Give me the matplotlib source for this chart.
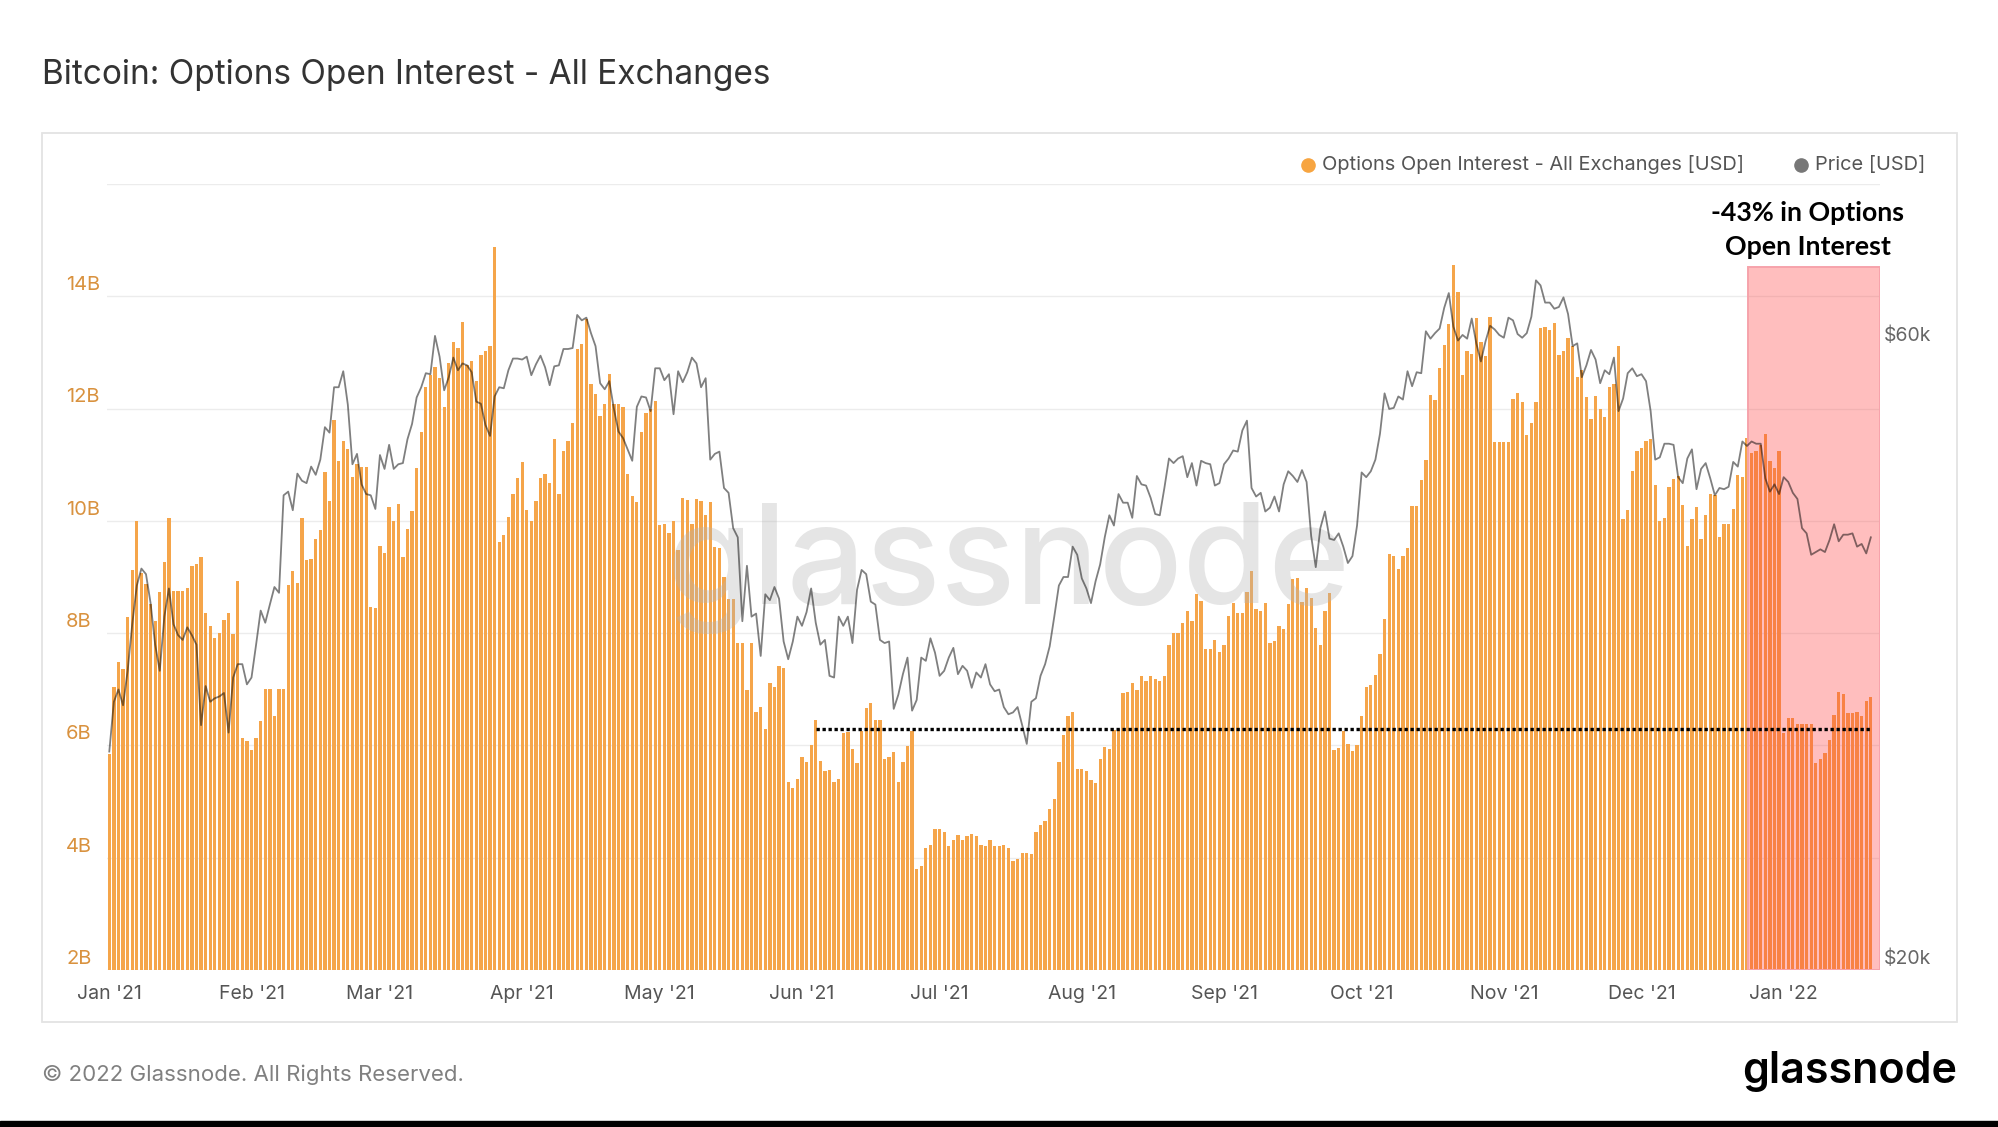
import numpy as np
import pandas as pd
import matplotlib
matplotlib.use('Agg')
import matplotlib.pyplot as plt
import matplotlib.dates as mdates
from matplotlib.patches import Rectangle
from matplotlib.lines import Line2D

plt.rcParams['font.family'] = ['Inter', 'DejaVu Sans']

# options open interest, billions USD (daily)
oi_jan21 = [5.84, 7.04, 7.49, 7.37, 8.29, 9.12, 10.0, 9.07, 8.88, 8.52, 8.22, 8.73, 9.26, 10.05, 8.75, 8.75,
            8.75, 8.80, 9.19, 9.24, 9.35, 8.35, 8.13, 7.92, 8.0, 8.23, 8.35, 7.98, 8.92, 6.13, 6.07]
oi_feb21 = [5.92, 6.13, 6.43, 7.01, 7.01, 6.52, 7.01, 7.01, 8.86, 9.11, 8.9, 10.05, 9.31, 9.32, 9.68, 9.83,
            10.87, 10.36, 11.79, 11.07, 11.43, 11.28, 10.79, 11.02, 10.96, 10.96, 8.47, 8.45]
oi_mar21 = [9.56, 9.43, 10.24, 10.0, 10.3, 9.35, 9.86, 10.17, 10.94, 11.58, 12.38, 12.6, 12.74, 12.54, 12.03,
            12.81, 13.19, 13.08, 13.55, 12.77, 12.85, 12.49, 12.95, 13.02, 13.11, 14.87, 9.62, 9.75, 10.07,
            10.47, 10.77]
oi_apr21 = [11.05, 10.2, 9.99, 10.36, 10.77, 10.84, 10.67, 11.45, 10.47, 11.24, 11.43, 11.75, 13.06, 13.15,
            13.59, 12.43, 12.26, 11.87, 12.09, 12.62, 12.09, 12.09, 12.03, 10.84, 10.45, 10.33, 11.58, 11.92,
            12.0, 12.13]
oi_may21 = [9.92, 9.94, 9.79, 10.0, 9.48, 10.41, 10.37, 9.94, 10.39, 10.36, 10.11, 10.33, 9.54, 9.51, 9.0,
            8.6, 8.6, 7.83, 7.83, 6.98, 7.83, 6.6, 6.69, 6.3, 7.11, 7.04, 7.41, 7.38, 5.34, 5.24, 5.41]
oi_jun21 = [5.79, 5.71, 6.0, 6.45, 5.73, 5.54, 5.56, 5.34, 5.41, 6.22, 6.24, 5.94, 5.68, 6.26, 6.67, 6.75,
            6.46, 6.45, 5.75, 5.79, 5.88, 5.35, 5.71, 5.99, 6.26, 3.8, 3.86, 4.18, 4.22, 4.52]
oi_jul21 = [4.52, 4.46, 4.2, 4.32, 4.41, 4.31, 4.39, 4.42, 4.39, 4.22, 4.2, 4.31, 4.2, 4.2, 4.22, 4.18, 3.95,
            3.98, 4.09, 4.09, 4.07, 4.46, 4.58, 4.65, 4.86, 5.05, 5.71, 6.19, 6.52, 6.6, 5.58]
oi_aug21 = [5.58, 5.54, 5.39, 5.33, 5.75, 5.98, 5.94, 6.28, 6.3, 6.93, 6.96, 7.11, 6.98, 7.24, 7.15, 7.24,
            7.18, 7.15, 7.24, 7.78, 8.0, 8.0, 8.18, 8.39, 8.22, 8.69, 8.57, 7.71, 7.71, 7.88, 7.66]
oi_sep21 = [7.79, 8.3, 8.54, 8.35, 8.35, 8.73, 9.11, 8.43, 8.39, 8.54, 7.83, 7.86, 8.13, 8.08, 8.52, 8.96,
            8.98, 8.56, 8.81, 8.63, 8.09, 7.78, 8.39, 8.71, 5.92, 5.96, 6.26, 6.02, 5.9, 6.0]
oi_oct21 = [6.53, 7.04, 7.07, 7.26, 7.62, 8.26, 9.41, 9.37, 9.15, 9.37, 9.51, 10.26, 10.27, 10.73, 11.09,
            12.24, 12.16, 12.72, 13.13, 13.5, 14.55, 14.07, 12.6, 13.02, 12.98, 13.62, 13.19, 12.94, 13.63,
            11.41, 11.41]
oi_nov21 = [11.41, 11.41, 12.17, 12.28, 12.11, 11.53, 11.75, 12.11, 13.43, 13.45, 13.4, 13.53, 12.96, 13.02,
            13.25, 13.11, 12.57, 12.68, 12.21, 11.81, 12.23, 12.0, 11.85, 12.38, 12.43, 13.11, 10.03, 10.19,
            10.88, 11.24]
oi_dec21 = [11.3, 11.43, 11.45, 10.64, 9.99, 10.05, 10.6, 10.75, 10.8, 10.28, 9.55, 10.03, 10.25, 9.68, 10.1,
            10.48, 10.46, 9.71, 9.94, 9.95, 10.21, 10.82, 10.78, 11.48, 11.21, 11.25, 11.36, 11.55, 11.07,
            10.94, 11.25]
oi_jan22 = [6.23, 6.48, 6.48, 6.39, 6.39, 6.39, 6.39, 5.68, 5.75, 5.87, 6.1, 6.55, 6.96, 6.91, 6.57, 6.57,
            6.59, 6.53, 6.8, 6.86]

# bitcoin price, thousands USD
px_jan21 = [29.4, 32.1, 32.8, 31.9, 33.9, 36.8, 39.4, 40.6, 40.2, 38.2, 35.5, 33.9, 37.3, 39.2, 36.8, 36.1,
            35.8, 36.6, 36.1, 35.5, 30.8, 33.0, 32.1, 32.3, 32.4, 32.6, 30.4, 33.5, 34.3, 34.3, 33.1]
px_feb21 = [33.5, 35.5, 37.7, 36.9, 38.1, 39.3, 38.9, 46.2, 46.5, 45.0, 48.0, 47.4, 47.2, 48.6, 47.9, 49.2,
            52.1, 51.6, 55.9, 55.9, 57.5, 54.2, 48.8, 49.7, 47.1, 46.3, 46.2, 45.1]
px_mar21 = [49.6, 48.4, 50.5, 48.4, 48.8, 48.9, 51.0, 52.4, 54.9, 55.9, 57.3, 57.2, 61.2, 59.0, 55.6, 56.9,
            58.9, 57.6, 58.3, 58.1, 57.4, 54.5, 54.3, 52.3, 51.3, 55.0, 55.9, 55.8, 57.6, 58.8, 58.8]
px_apr21 = [58.7, 59.0, 57.1, 58.2, 59.1, 57.9, 56.1, 58.0, 58.1, 59.8, 59.8, 59.9, 63.5, 62.9, 63.2, 61.5,
            60.1, 56.3, 55.7, 56.5, 53.8, 51.7, 51.1, 50.1, 49.1, 54.0, 55.0, 54.9, 53.6, 57.8]
px_may21 = [57.8, 56.6, 57.2, 53.3, 57.5, 56.4, 57.4, 58.9, 58.3, 55.9, 56.8, 49.2, 49.7, 49.9, 46.8, 46.4,
            43.6, 42.9, 37.0, 40.8, 37.3, 37.5, 34.8, 38.8, 38.4, 39.3, 38.5, 35.7, 34.6, 35.7, 37.3]
px_jun21 = [36.7, 37.6, 39.2, 36.9, 35.5, 35.8, 33.6, 33.5, 37.3, 36.7, 37.3, 35.6, 39.1, 40.5, 40.2, 38.3,
            38.1, 35.8, 35.6, 35.7, 31.7, 32.5, 33.7, 34.7, 31.6, 32.2, 34.7, 34.5, 35.9, 35.0]
px_jul21 = [33.6, 33.9, 34.7, 35.3, 33.7, 34.2, 33.9, 32.9, 33.8, 33.5, 34.3, 33.1, 32.7, 32.8, 31.8, 31.4,
            31.5, 31.8, 30.8, 29.8, 32.1, 32.3, 33.6, 34.3, 35.4, 37.3, 39.4, 40.0, 40.0, 42.2, 41.6]
px_aug21 = [39.9, 39.2, 38.2, 39.7, 40.9, 42.9, 44.6, 43.8, 46.3, 45.6, 45.6, 44.4, 47.8, 47.1, 47.0, 46.0,
            44.7, 44.6, 46.8, 49.3, 48.9, 49.3, 49.5, 47.7, 48.9, 47.0, 49.1, 48.9, 48.8, 47.0, 47.2]
px_sep21 = [48.8, 49.3, 50.0, 49.9, 51.8, 52.7, 46.8, 46.1, 46.4, 44.9, 45.2, 46.1, 44.9, 47.1, 48.2, 47.8,
            47.3, 48.3, 47.3, 43.0, 40.7, 43.6, 44.9, 42.8, 42.7, 43.2, 42.2, 41.0, 41.5, 43.8]
px_oct21 = [48.1, 47.7, 48.2, 49.2, 51.5, 55.3, 53.8, 53.9, 55.0, 54.7, 57.5, 56.0, 57.4, 57.3, 61.7, 60.9,
            61.5, 62.0, 64.3, 66.0, 62.2, 60.7, 61.3, 60.9, 63.1, 60.4, 58.5, 60.6, 62.3, 61.9, 61.3]
px_nov21 = [61.0, 63.2, 62.9, 61.4, 61.0, 61.5, 63.3, 67.5, 66.9, 64.9, 64.9, 64.2, 64.4, 65.5, 63.6, 60.1,
            60.4, 56.9, 58.1, 59.7, 58.7, 56.3, 57.6, 57.2, 58.9, 53.6, 54.8, 57.3, 57.8, 57.0]
px_dec21 = [57.2, 56.5, 53.6, 49.2, 49.4, 50.6, 50.6, 50.5, 47.7, 47.2, 49.3, 50.1, 46.7, 48.4, 48.9, 47.6,
            46.2, 46.8, 46.7, 46.9, 49.0, 48.6, 50.8, 50.4, 50.8, 50.6, 50.6, 47.6, 46.5, 47.1, 46.3]
px_jan22 = [47.7, 47.3, 46.4, 45.9, 43.6, 43.2, 41.6, 41.8, 42.0, 41.8, 42.7, 43.9, 42.6, 43.1, 43.1, 43.2,
            42.2, 42.4, 41.7, 42.9]

month_labels = ["Jan '21", "Feb '21", "Mar '21", "Apr '21", "May '21", "Jun '21", "Jul '21",
                "Aug '21", "Sep '21", "Oct '21", "Nov '21", "Dec '21", "Jan '22"]
left_ticks = [2, 4, 6, 8, 10, 12, 14]
right_ticks = [20000, 60000]
support_level = 6.3
drop_text = '-43% in Options\nOpen Interest'

oi = np.array(oi_jan21 + oi_feb21 + oi_mar21 + oi_apr21 + oi_may21 + oi_jun21 + oi_jul21 + oi_aug21 +
              oi_sep21 + oi_oct21 + oi_nov21 + oi_dec21 + oi_jan22)
price = np.array(px_jan21 + px_feb21 + px_mar21 + px_apr21 + px_may21 + px_jun21 + px_jul21 + px_aug21 +
                 px_sep21 + px_oct21 + px_nov21 + px_dec21 + px_jan22) * 1000

dates = pd.date_range('2021-01-01', periods=len(oi), freq='D')
x = mdates.date2num(dates)
month_pos = mdates.date2num(pd.date_range('2021-01-01', periods=len(month_labels), freq='MS'))

BAR = '#f5a54a'
W, H = 1999, 1127

fig = plt.figure(figsize=(W / 100, H / 100), dpi=100)
fig.patch.set_facecolor('white')

# outer chart box
fig.add_artist(Rectangle((42 / W, 1 - 1022 / H), (1957 - 42) / W, (1022 - 133) / H,
                         transform=fig.transFigure, fill=False, edgecolor='#e3e3e3', lw=1.3))

ax = fig.add_axes([107 / W, 1 - 970 / H, (1880 - 107) / W, (970 - 184) / H])
ax.bar(x, oi, width=0.72, color=BAR, zorder=2)
ax.set_ylim(2, 16)
ax.set_xlim(x[0] - 0.5, x[0] + 386)
ax.set_yticks(range(2, 17, 2))
ax.grid(axis='y', color='#ececec', lw=1.0, zorder=0)
ax.set_axisbelow(True)
ax.tick_params(axis='y', length=0, labelleft=False)
ax.set_xticks(month_pos)
ax.set_xticklabels(month_labels, fontsize=14, color='#555555')
ax.tick_params(axis='x', length=0, pad=11)
for s in ax.spines.values():
    s.set_visible(False)

for t in left_ticks:
    ax.annotate('%dB' % t, xy=(-0.0231, t), xycoords=ax.get_yaxis_transform(),
                xytext=(0, 8.0), textcoords='offset points', ha='left', va='center',
                fontsize=14.5, color='#d9923f')

# highlighted window after the Dec 31 expiry
ax.add_patch(Rectangle((x[0] + 357.3, 2), 386 - 357.3 - 0.05, 14.52 - 2, facecolor='#ff3c3c', alpha=0.33,
                       edgecolor='none', zorder=3))
ax.add_patch(Rectangle((x[0] + 357.3, 2), 386 - 357.3 - 0.05, 14.52 - 2, fill=False,
                       edgecolor='#f6a3ab', lw=1.4, zorder=3))

ax.hlines(support_level, x[0] + 154, x[-1], colors='black', linestyles=(0, (1, 0.8)), lw=2.4, zorder=5)

ax.text(0.5085, 0.512, 'glassnode', transform=ax.transAxes, ha='center', va='center', fontsize=100,
        fontweight='medium', color='#b5b5b5', alpha=0.35, zorder=3.5)

ax2 = ax.twinx()
ax2.set_yscale('log')
ax2.plot(x, price, color='black', alpha=0.5, lw=1.3, zorder=6)
ax2.set_ylim(20000, 80000)
ax2.set_xlim(ax.get_xlim())
ax2.set_yticks([])
ax2.yaxis.set_minor_locator(matplotlib.ticker.NullLocator())
for s in ax2.spines.values():
    s.set_visible(False)
for t in right_ticks:
    ax2.annotate('$%dk' % (t // 1000), xy=(1.0023, t), xycoords=ax2.get_yaxis_transform(),
                 xytext=(0, 8.0), textcoords='offset points', ha='left', va='center',
                 fontsize=14, color='#666666')

# title, legend, notes
fig.text(42 / W, 1 - 75 / H, 'Bitcoin: Options Open Interest - All Exchanges', fontsize=24,
         color='#333333', ha='left', va='center')
fig.add_artist(Line2D([1308 / W], [1 - 165 / H], marker='o', ms=9.5, color='#f7a541',
                      transform=fig.transFigure))
fig.text(1322 / W, 1 - 165 / H, 'Options Open Interest - All Exchanges [USD]', fontsize=14.4,
         color='#555555', ha='left', va='center')
fig.add_artist(Line2D([1801 / W], [1 - 165 / H], marker='o', ms=9.5, color='#777777',
                      transform=fig.transFigure))
fig.text(1815 / W, 1 - 165 / H, 'Price [USD]', fontsize=14.4, color='#555555', ha='left', va='center')

fig.text(1808 / W, 1 - 230 / H, drop_text, fontsize=19.3, fontweight='bold', family=['Lato', 'DejaVu Sans'],
         ha='center', va='center', linespacing=1.5, color='black')

fig.text(42 / W, 1 - 1075 / H, '© 2022 Glassnode. All Rights Reserved.', fontsize=16, color='#808080',
         ha='left', va='center')
fig.text(1957 / W, 1 - 1072 / H, 'glassnode', fontsize=31, fontweight='semibold', color='black',
         ha='right', va='center')

fig.add_artist(Rectangle((0, 0), 1, 6 / H, transform=fig.transFigure, color='black'))

fig.savefig('out.png', dpi=100)
